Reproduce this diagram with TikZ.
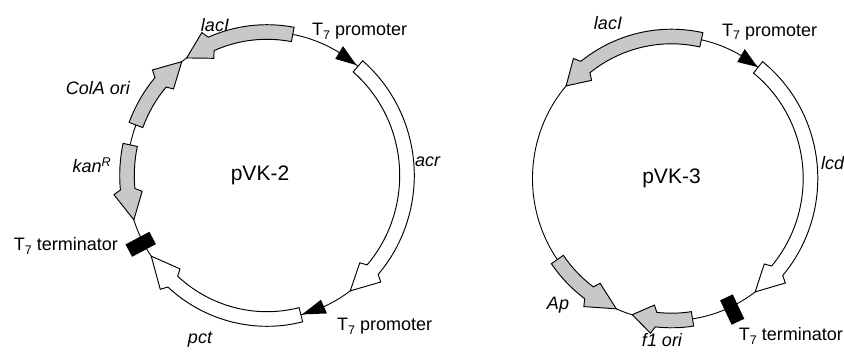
\documentclass[tikz,border=0pt]{standalone}
\usepackage{fontspec}
\setmainfont{Liberation Sans}
\definecolor{genegray}{RGB}{200,200,200}
\newcommand\Tseven{T\raisebox{-0.18em}{\fontsize{12.5}{12.5}\selectfont 7}}
\tikzset{
  lab/.style={font=\fontsize{18}{20}\selectfont, inner sep=0pt},
  ilab/.style={font=\fontsize{18}{20}\selectfont\itshape, inner sep=0pt},
  title/.style={font=\fontsize{21}{23}\selectfont, inner sep=0pt},
  backbone/.style={draw=black, line width=0.9pt},
  grayarrow/.style={draw=black, line width=0.95pt, fill=genegray, line join=miter},
  whitearrow/.style={draw=black, line width=0.95pt, fill=white, line join=miter},
  termbox/.style={rectangle, fill=black, minimum width=27pt, minimum height=14pt, inner sep=0pt},
}
% #1 style, #2 rx, #3 ry, #4 start angle, #5 tip angle, #6 head length (deg), #7 direction (1 ccw, -1 cw)
\newcommand\genearrow[7]{%
  \pgfmathsetmacro\na{#5-(#7)*(#6+1.5)}%
  \pgfmathsetmacro\ba{#5-(#7)*(#6)}%
  \pgfmathsetmacro\rxo{#2+7.3}\pgfmathsetmacro\ryo{#3+7.3}%
  \pgfmathsetmacro\rxi{#2-7.3}\pgfmathsetmacro\ryi{#3-7.3}%
  \pgfmathsetmacro\rxh{#2+14.2}\pgfmathsetmacro\ryh{#3+14.2}%
  \pgfmathsetmacro\rxl{#2-14.2}\pgfmathsetmacro\ryl{#3-14.2}%
  \draw[#1] (#4:\rxo pt and \ryo pt)
     arc[start angle=#4, end angle=\na, x radius=\rxo pt, y radius=\ryo pt]
     -- (\ba:\rxh pt and \ryh pt) -- (#5:#2pt and #3pt) -- (\ba:\rxl pt and \ryl pt)
     -- (\na:\rxi pt and \ryi pt)
     arc[start angle=\na, end angle=#4, x radius=\rxi pt, y radius=\ryi pt] -- cycle;
}
% #1 rx, #2 ry, #3 base angle, #4 tip angle
\newcommand\promoter[4]{%
  \pgfmathsetmacro\pxo{#1+7.5}\pgfmathsetmacro\pyo{#2+7.5}%
  \pgfmathsetmacro\pxi{#1-7.5}\pgfmathsetmacro\pyi{#2-7.5}%
  \fill[black] (#4:#1pt and #2pt) -- (#3:\pxo pt and \pyo pt) -- (#3:\pxi pt and \pyi pt) -- cycle;
}
\begin{document}
\begin{tikzpicture}[x=1pt,y=1pt]
\useasboundingbox (0,0) rectangle (844,351);
\fill[white] (0,0) rectangle (844,351);

% ---------------- pVK-2 ----------------
\begin{scope}[shift={(267,175.5)}]
  \coordinate (c1) at (0,0);
  \draw[backbone] (c1) ellipse [x radius=140pt, y radius=143.5pt];
  \genearrow{grayarrow}{140}{143.5}{79.4}{125}{10}{1}
  \genearrow{grayarrow}{140}{143.5}{159.4}{127.5}{10.5}{-1}
  \genearrow{grayarrow}{140}{143.5}{167.7}{198}{11}{1}
  \genearrow{whitearrow}{140}{143.5}{49.5}{-53.5}{11}{-1}
  \genearrow{whitearrow}{140}{143.5}{284}{214.2}{12}{-1}
  \promoter{140}{143.5}{59}{50.3}
  \promoter{140}{143.5}{-66}{-75.5}
  \node[termbox, rotate=208] (term1) at (208:143pt and 146.5pt) {};
  \node[title] (name1) at (-7,0) {pVK-2};
\end{scope}
\node[ilab, anchor=base] (lacI1) at (215,319) {lacI};
\node[lab, anchor=base west] (prom1a) at (312,315) {\Tseven{} promoter};
\node[ilab, anchor=base] (cola) at (98,256) {ColA ori};
\node[ilab, anchor=base] (kan) at (92,178) {kan\textsuperscript{R}};
\node[ilab, anchor=base west] (acr) at (415,184) {acr};
\node[lab, anchor=base east] (term1lab) at (118,100) {\Tseven{} terminator};
\node[lab, anchor=base west] (prom1b) at (337,20) {\Tseven{} promoter};
\node[ilab, anchor=base] (pct) at (200,8) {pct};

% ---------------- pVK-3 ----------------
\begin{scope}[shift={(671.5,172.5)}]
  \coordinate (c2) at (0,0);
  \draw[backbone] (c2) ellipse [x radius=139pt, y radius=142pt];
  \genearrow{grayarrow}{139}{142}{77.6}{139.3}{9.5}{1}
  \genearrow{whitearrow}{139}{142}{51.5}{-53}{11}{-1}
  \genearrow{grayarrow}{139}{142}{-81.3}{-106.4}{8.5}{-1}
  \genearrow{grayarrow}{139}{142}{214.8}{246.6}{11.5}{1}
  \promoter{139}{142}{60}{51.7}
  \node[termbox, rotate=-64.7] (term2) at (-64.7:142pt and 145pt) {};
  \node[title] (name2) at (0,0) {pVK-3};
\end{scope}
\node[ilab, anchor=base] (lacI2) at (608,321) {lacI};
\node[lab, anchor=base west] (prom2) at (722,314.5) {\Tseven{} promoter};
\node[ilab, anchor=base west] (lcd) at (821,181) {lcd};
\node[ilab, anchor=base] (ap) at (558,41) {Ap};
\node[ilab, anchor=base] (f1) at (662,5) {f1 ori};
\node[lab, anchor=base east] (term2lab) at (843,10) {\Tseven{} terminator};
\end{tikzpicture}
\end{document}
